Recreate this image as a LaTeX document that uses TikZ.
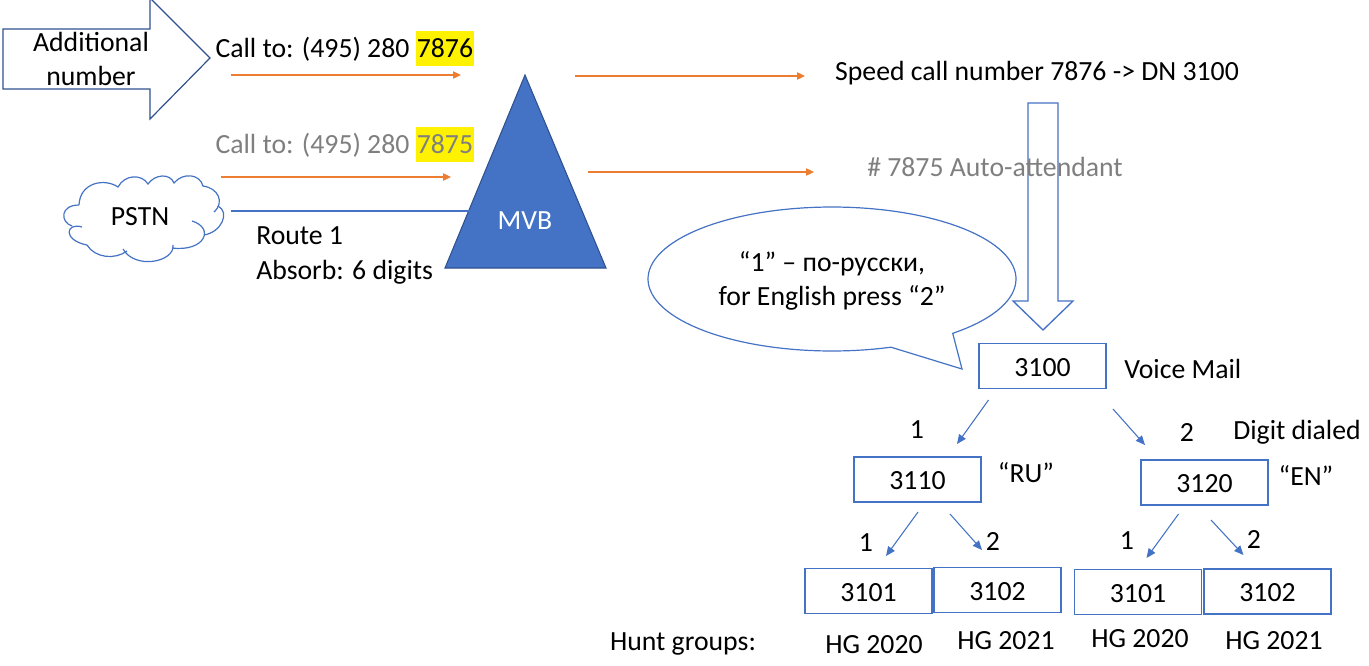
\documentclass[tikz,border=0pt]{standalone}
\usepackage{fontspec}
\setmainfont{Carlito}
\usetikzlibrary{arrows.meta}
\definecolor{msblue}{HTML}{4472C4}
\definecolor{msdark}{HTML}{2F528F}
\definecolor{msorange}{HTML}{ED7D31}
\definecolor{msgray}{HTML}{7F7F7F}
\newcommand{\lblfont}{\fontsize{20.8}{25}\selectfont}
\tikzset{
  lbl/.style={inner sep=0pt,font=\lblfont,align=center},
  numbox/.style={draw=msblue,line width=1.1pt,minimum width=95pt,minimum height=34pt,inner sep=0pt,text height=15pt,text depth=0pt,font=\lblfont},
  hlbox/.style={fill=yellow,inner sep=0pt,minimum width=43pt,text height=19.5pt,text depth=6.75pt,font=\lblfont},
  callarrow/.style={draw=msorange,line width=.9pt,-{Triangle[length=6pt,width=5.5pt]}},
  treearrow/.style={draw=msblue,line width=.8pt,-{Triangle[length=7pt,width=6pt]}},
  outline/.style={draw=msblue,line width=.9pt}
}
\begin{document}
\begin{tikzpicture}[x=.75pt,y=-.75pt]
\useasboundingbox (0,0) rectangle (1369,665);
% big arrows
\draw[draw=msdark,line width=.9pt] (3,29) -- (150,29) -- (150,-2) -- (210,58) -- (150,119) -- (150,89) -- (3,89) -- cycle;
\draw[outline,line width=1pt] (1028,103) -- (1058,103) -- (1058,301) -- (1073,301) -- (1043,330) -- (1013,301) -- (1028,301) -- cycle;
\node[lbl] (addnum) at (91,59) {Additional\\number};
% dialed numbers
\node[hlbox,anchor=base west] (hlone) at (416,57) {\hfill 7876\hfill\null};
\node[lbl,anchor=base east] (callone) at (416,57) {Call to: (495) 280~};
\node[hlbox,anchor=base west,text=msgray] (hltwo) at (416,153) {\hfill 7875\hfill\null};
\node[lbl,anchor=base east,text=msgray] (calltwo) at (416,153) {Call to: (495) 280~};
\node[lbl] (speed) at (1037,73.5) {Speed call number 7876 -> DN 3100};
\node[lbl,text=msgray] (auto) at (995,167) {\# 7875 Auto-attendant};
% switch
\draw[fill=msblue,draw=msdark,line width=.8pt] (525,75) -- (606,268) -- (445,268) -- cycle;
\node[lbl,text=white] (mvb) at (525,221) {MVB};
% cloud
\draw[outline] (79,205) .. controls (80,182) and (105,178) .. (118,187)
  .. controls (125,174) and (142,174) .. (148,184)
  .. controls (155,174) and (170,173) .. (174,183)
  .. controls (183,172) and (200,174) .. (203,186)
  .. controls (218,188) and (225,202) .. (214,212);
\draw[outline] (218,206) .. controls (230,212) and (222,232) .. (204,235);
\draw[outline] (192,221) .. controls (215,228) and (205,252) .. (172,248);
\draw[outline] (173,245) .. controls (175,262) and (135,270) .. (123,249);
\draw[outline] (127,251) .. controls (115,260) and (95,258) .. (87,245);
\draw[outline] (87,245) .. controls (62,240) and (66,222) .. (82,227);
\draw[outline] (72,226) .. controls (60,222) and (60,205) .. (79,205);
\node[lbl] (pstn) at (140,217) {PSTN};
\coordinate (routea) at (231,211);
\coordinate (routeb) at (470,211);
\draw[draw=msblue,line width=1.6pt] (routea) -- (routeb);
\node[lbl,anchor=base west] (route) at (256,244) {Route 1};
\node[lbl,anchor=base west] (absorb) at (256,279) {Absorb: 6 digits};
% orange arrows
\coordinate (ca) at (231,75);
\coordinate (cb) at (461,75);
\coordinate (cc) at (221,177);
\coordinate (cd) at (451,177);
\coordinate (ce) at (575,76);
\coordinate (cf) at (805,76);
\coordinate (cg) at (588,172);
\coordinate (ch) at (814,172);
\draw[callarrow] (ca) -- (cb);
\draw[callarrow] (cc) -- (cd);
\draw[callarrow] (ce) -- (cf);
\draw[callarrow] (cg) -- (ch);
% speech bubble
\draw[outline] plot[domain=71.3:409,samples=120] ({832+184*cos(\x)},{279+72*sin(\x)}) -- (962,369) -- cycle;
\node[lbl] (bubble) at (832,281) {“1” – по-русски,\\[1pt]for English press “2”};
% tree
\node[numbox] (vm) at (1042.5,366) {3100};
\node[numbox] (ru) at (917.5,479.5) {3110};
\node[numbox] (en) at (1204.5,482.5) {3120};
\node[numbox] (ruone) at (868.5,591) {3101};
\node[numbox] (rutwo) at (997.5,590) {3102};
\node[numbox] (enone) at (1138,592) {3101};
\node[numbox] (entwo) at (1267.5,591.5) {3102};
\coordinate (ta) at (988.5,400);
\coordinate (tb) at (957,444);
\coordinate (tc) at (1113,409);
\coordinate (td) at (1145,445);
\coordinate (te) at (918,512);
\coordinate (tf) at (886,556);
\coordinate (tg) at (950,514);
\coordinate (th) at (982,550);
\coordinate (ti) at (1178.5,514);
\coordinate (tj) at (1146.5,558);
\coordinate (tk) at (1211,520);
\coordinate (tl) at (1243.5,555);
\draw[treearrow] (ta) -- (tb);
\draw[treearrow] (tc) -- (td);
\draw[treearrow] (te) -- (tf);
\draw[treearrow] (tg) -- (th);
\draw[treearrow] (ti) -- (tj);
\draw[treearrow] (tk) -- (tl);
% tree labels
\node[lbl,anchor=west] (vmtxt) at (1124,369) {Voice Mail};
\node[lbl] (dig) at (1297,432) {Digit dialed};
\node[lbl] (ruq) at (1026,473) {“RU”};
\node[lbl] (enq) at (1306,475) {“EN”};
\node[lbl] (da) at (917,430) {1};
\node[lbl] (db) at (1187,432) {2};
\node[lbl] (dc) at (866,543) {1};
\node[lbl] (dd) at (993,541) {2};
\node[lbl] (de) at (1127,541) {1};
\node[lbl] (df) at (1254,539) {2};
\node[lbl] (hunt) at (683,644) {Hunt groups:};
\node[lbl] (hga) at (874,645) {HG 2020};
\node[lbl] (hgb) at (1006,641) {HG 2021};
\node[lbl] (hgc) at (1140,639) {HG 2020};
\node[lbl] (hgd) at (1274,641) {HG 2021};
\end{tikzpicture}
\end{document}
